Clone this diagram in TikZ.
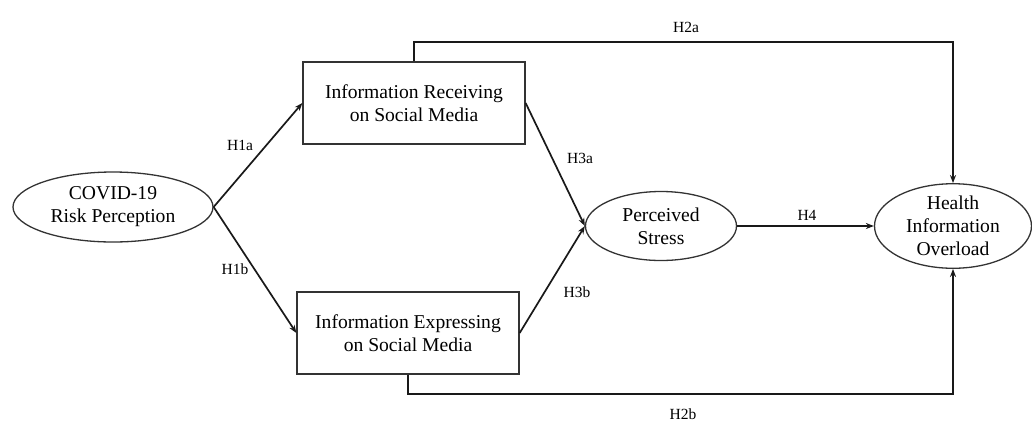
\documentclass[tikz,border=0pt]{standalone}
\usepackage{fontspec}
\setmainfont{Liberation Serif}
\usetikzlibrary{shapes.geometric,arrows.meta}
\begin{document}
\begin{tikzpicture}[x=1pt, y=-1pt, >={Stealth[length=8pt,width=6pt]},
    construct/.style={draw=black!80, line width=1.3pt, align=center, inner sep=0pt, font=\fontsize{19.6}{23}\selectfont},
    latent/.style={construct, ellipse},
    observed/.style={construct, rectangle, minimum width=222pt, minimum height=82pt},
    path/.style={->, line width=1.7pt, black!90},
    hyp/.style={font=\fontsize{15.5}{18}\selectfont, inner sep=1pt}]
    \useasboundingbox (0,0) rectangle (1032,421);
    
    % 潜变量与观测变量
    \node[latent, minimum width=200pt, minimum height=70pt] (risk) at (113,207) {COVID-19\\Risk Perception};
    \node[observed] (recv) at (414,103) {Information Receiving\\on Social Media};
    \node[observed] (expr) at (408,333) {Information Expressing\\on Social Media};
    \node[latent, minimum width=151pt, minimum height=69pt] (stress) at (661,226) {Perceived\\Stress};
    \node[latent, minimum width=157pt, minimum height=79pt] (overload) at (953,226) {Health\\Information\\Overload};
    
    % 路径 H1, H3, H4
    \draw[path] (risk.east) -- (recv.west);
    \draw[path] (risk.east) -- (expr.west);
    \draw[path] (recv.east) -- (stress.west);
    \draw[path] (expr.east) -- (stress.west);
    \draw[path] (stress.east) -- (overload.west);
    
    % 路径 H2 (绕行上下两侧)
    \coordinate (top) at (0,42);
    \coordinate (bottom) at (0,394);
    \draw[path] (recv.north) -- (recv.north |- top) -| (overload.north);
    \draw[path] (expr.south) -- (expr.south |- bottom) -| (overload.south);
    
    % 假设标签
    \node[hyp] (h1a) at (240,145) {H1a};
    \node[hyp] (h1b) at (235,269) {H1b};
    \node[hyp] (h3a) at (580,158) {H3a};
    \node[hyp] (h3b) at (577,292) {H3b};
    \node[hyp] (h4) at (807,215) {H4};
    \node[hyp] (h2a) at (686,27) {H2a};
    \node[hyp] (h2b) at (683,414) {H2b};
\end{tikzpicture}
\end{document}
